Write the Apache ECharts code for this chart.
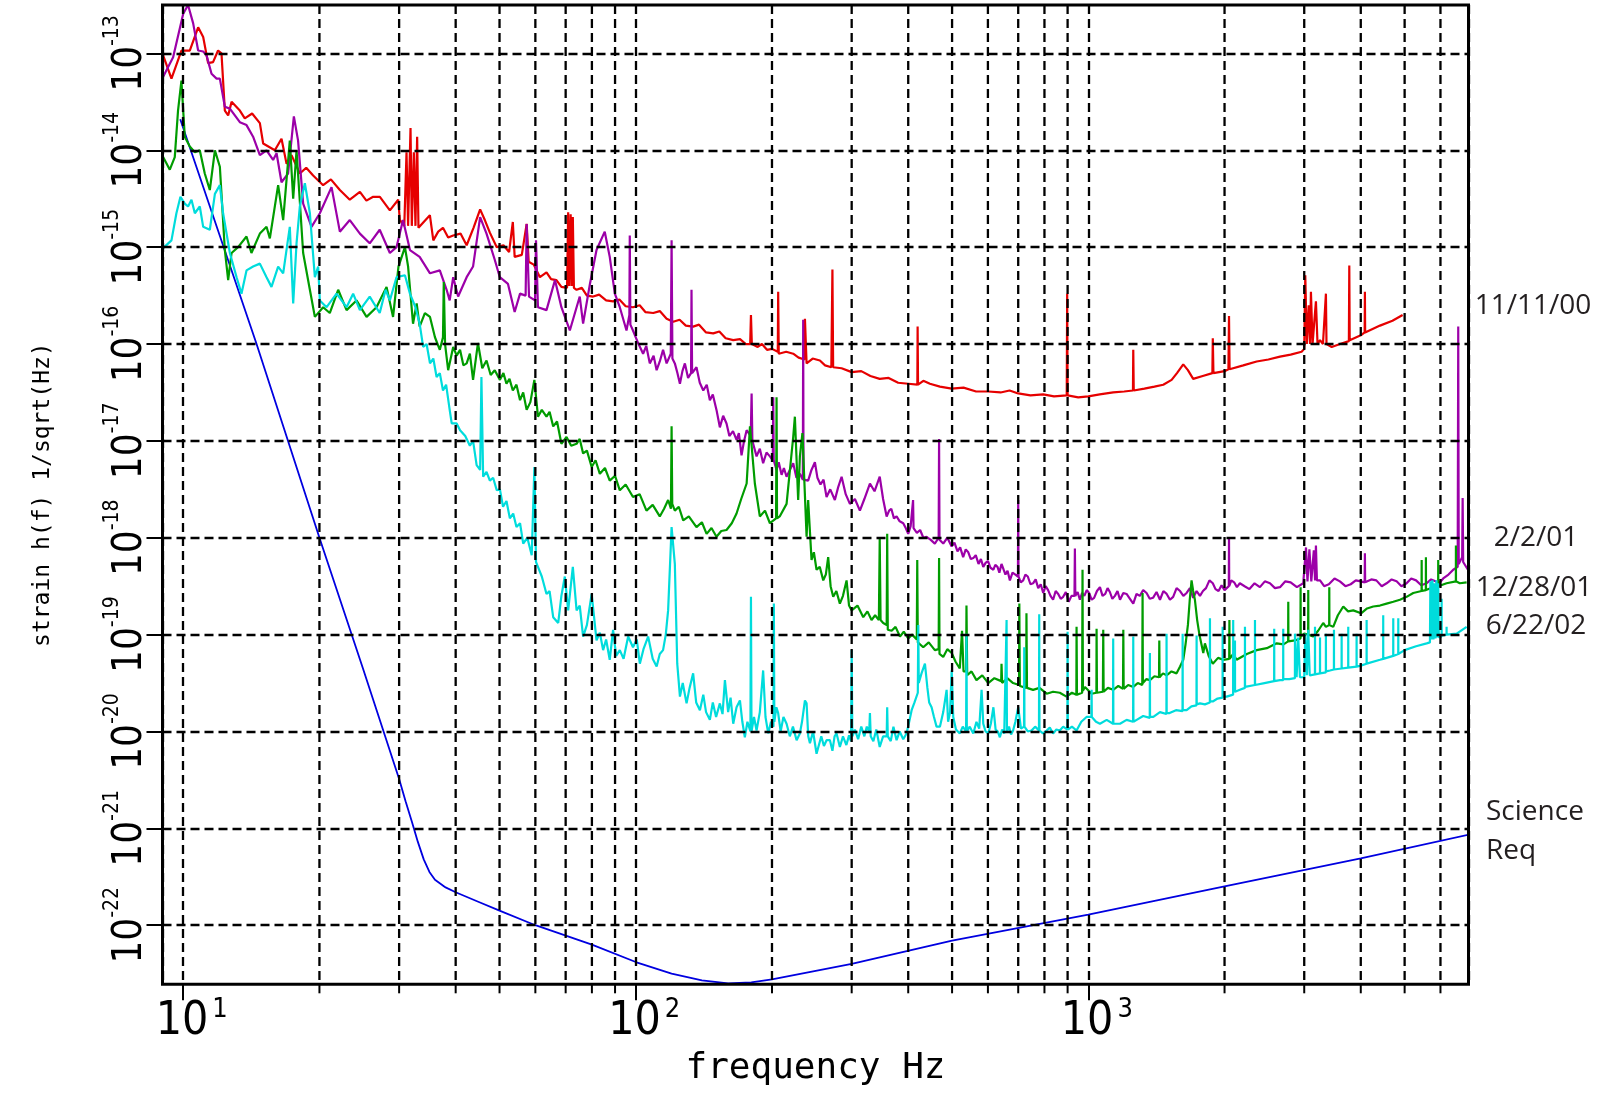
<!DOCTYPE html>
<html>
<head>
<meta charset="utf-8">
<title>strain h(f)</title>
<style>
    html, body { margin: 0; padding: 0; background: #fff; }
    #sensitivity { width: 1607px; height: 1101px; }
</style>
<script src="https://cdn.jsdelivr.net/npm/echarts@6.0.0/dist/echarts.min.js"></script>
</head>
<body>
<div id="sensitivity"></div>
<script>
// values: [frequency Hz, log10 of strain]
var run_111100 = [
    [9.03,-13.02],[9.42,-13.26],[9.91,-12.97],[10.34,-12.97],[10.79,-12.73],[11.07,-12.83],[11.35,-13.10],[11.64,-13.09],
    [11.94,-12.97],[12.15,-13.0],[12.36,-13.59],[12.57,-13.64],[12.79,-13.50],[13.34,-13.59],[13.68,-13.67],[14.2,-13.62],
    [14.77,-13.72],[15.02,-13.93],[15.94,-14.0],[16.49,-13.88],[16.92,-14.14],[17.35,-14.05],[18.1,-14.24],[18.7,-14.18],
    [19.37,-14.26],[20.38,-14.36],[21.2,-14.3],[22.19,-14.41],[23.34,-14.51],[24.57,-14.43],[25.4,-14.52],[26.29,-14.48],
    [27.2,-14.48],[28.62,-14.62],[29.86,-14.51],[30.11,-14.72],[30.8,-14.78],[31.15,-14.02],[31.4,-14.78],[31.79,-13.77],
    [32.0,-14.78],[32.33,-14.02],[32.6,-14.78],[32.88,-13.86],[33.1,-14.8],[33.33,-14.82],[35.08,-14.67],[35.7,-14.93],
    [36.6,-14.84],[37.5,-14.8],[38.5,-14.9],[39.5,-14.88],[41,-14.86],[42.3,-14.98],[43.8,-14.8],[45.3,-14.61],
    [46.4,-14.72],[47.6,-14.85],[49.3,-15.0],[51,-14.98],[52.5,-15.05],[53.5,-14.74],[54,-15.1],[56,-15.08],
    [57.4,-14.76],[58,-15.15],[59.5,-15.18],[61.4,-15.31],[63.5,-15.26],[65,-15.33],[66.8,-15.34],[68.5,-15.41],
    [70.5,-15.42],[70.9,-14.64],[71.3,-15.40],[71.8,-14.66],[72.2,-15.40],[72.6,-14.69],[73,-15.42],[74,-15.44],
    [76,-15.42],[78,-15.5],[80.5,-15.51],[83,-15.49],[86,-15.55],[89.1,-15.56],[92,-15.54],[95,-15.61],
    [98.6,-15.62],[102,-15.6],[105,-15.67],[109.3,-15.68],[113,-15.66],[117,-15.74],[121,-15.77],[125,-15.75],
    [129,-15.81],[133.9,-15.82],[138,-15.8],[143,-15.88],[148.3,-15.89],[153,-15.87],[158,-15.94],[164.2,-15.96],
    [170,-15.95],[175,-16.0],[179,-16.0],[179.7,-15.70],[180.5,-16.0],[186,-16.03],[190,-16.0],[195,-16.06],
    [200,-16.05],[206,-16.08],[206.4,-15.46],[207,-16.1],[215,-16.08],[222.8,-16.10],[229,-16.14],[236,-16.16],
    [236.5,-15.74],[238.5,-16.20],[246,-16.15],[255.2,-16.17],[262,-16.22],[270.5,-16.24],[272,-15.23],[273,-16.24],
    [285,-16.25],[300,-16.29],[315,-16.28],[330,-16.33],[346,-16.36],[362,-16.35],[380,-16.4],[400,-16.41],
    [419,-16.42],[419.6,-15.82],[420.5,-16.42],[432,-16.38],[446.7,-16.41],[470,-16.44],[499,-16.46],[530,-16.45],
    [565,-16.49],[601,-16.49],[640,-16.5],[670,-16.48],[700,-16.51],[745,-16.53],[795,-16.52],[840,-16.54],
    [896,-16.53],[898,-15.48],[900,-16.53],[950,-16.55],[1000,-16.54],[1060,-16.52],[1135,-16.50],[1200,-16.49],
    [1255,-16.48],[1257,-16.06],[1260,-16.48],[1330,-16.46],[1400,-16.44],[1464,-16.42],[1528,-16.37],[1570,-16.3],
    [1621,-16.21],[1660,-16.27],[1705,-16.36],[1790,-16.33],[1880,-16.30],[1884,-15.94],[1890,-16.30],[2000,-16.28],
    [2040,-16.26],[2046,-15.71],[2052,-16.26],[2200,-16.22],[2355,-16.18],[2500,-16.16],[2652,-16.13],[2800,-16.11],
    [2960,-16.08],[3000,-16.05],[3016,-15.29],[3040,-16.0],[3070,-15.6],[3090,-16.0],[3104,-15.46],[3130,-16.0],
    [3160,-15.75],[3184,-15.56],[3210,-16.0],[3251,-15.96],[3300,-16.0],[3350,-15.48],[3360,-16.0],[3450,-16.03],
    [3600,-16.0],[3765,-15.97],[3773,-15.19],[3781,-15.96],[4000,-15.91],[4080,-15.88],[4085,-15.46],[4090,-15.88],
    [4411,-15.81],[4700,-15.76],[4949,-15.70]
];

var run_020201 = [
    [9.03,-13.24],[9.5,-13.04],[10.0,-12.59],[10.25,-12.50],[10.52,-12.69],[10.79,-12.97],[11.07,-12.98],[11.26,-13.02],
    [11.55,-13.21],[11.85,-13.26],[12.05,-13.26],[12.36,-13.55],[12.68,-13.57],[13.34,-13.71],[13.8,-13.74],[14.27,-13.86],
    [14.77,-14.05],[15.28,-14.0],[15.8,-14.10],[16.08,-14.03],[16.49,-14.33],[17.05,-14.24],[17.56,-13.65],[17.94,-13.90],
    [18.41,-14.55],[19.21,-14.79],[20.04,-14.65],[21.27,-14.38],[22.19,-14.84],[23.34,-14.72],[24.57,-14.86],[25.83,-14.96],
    [27.18,-14.82],[28.62,-15.06],[29.6,-15.0],[30.6,-14.72],[31.7,-15.03],[33.3,-15.10],[35.1,-15.27],[36.9,-15.24],
    [38.2,-15.44],[38.8,-15.55],[39.5,-15.31],[40.5,-15.51],[42.3,-15.31],[43.7,-15.20],[45.3,-14.69],[46.8,-14.86],
    [48.8,-15.13],[50.07,-15.31],[52.2,-15.38],[54.0,-15.67],[55.5,-15.48],[57.1,-15.5],[57.4,-14.76],[58.1,-15.51],
    [59.9,-15.55],[60.2,-14.93],[60.8,-15.62],[63.5,-15.65],[66.3,-15.34],[68.5,-15.62],[71.5,-15.86],[75.2,-15.51],
    [76.5,-15.79],[79.2,-15.38],[81.9,-15.03],[85.4,-14.84],[87.6,-15.10],[89.9,-15.48],[92.2,-15.62],[95.4,-15.86],
    [96.8,-15.7],[97.0,-14.88],[97.3,-15.8],[98.6,-15.86],[101.2,-15.99],[103.8,-16.10],[105.5,-16.02],[107.4,-16.20],
    [109.5,-16.12],[111.2,-16.27],[113,-16.18],[114.9,-16.06],[117,-16.2],[119.5,-16.1],[120,-14.93],[120.5,-16.15],
    [122,-16.20],[123.6,-16.3],[125.2,-16.41],[126.8,-16.28],[128.4,-16.20],[130.5,-16.35],[132.5,-16.3],[132.8,-15.44],
    [133.2,-16.3],[136.2,-16.24],[138.5,-16.4],[141,-16.48],[143.5,-16.42],[145.8,-16.58],[148,-16.52],[150.8,-16.68],
    [153.4,-16.86],[156,-16.74],[158.7,-16.82],[161,-16.95],[164,-16.9],[167,-16.99],[169,-16.92],[171.3,-17.15],
    [173.5,-17.0],[175.8,-16.89],[179.5,-16.95],[180.3,-16.51],[181,-17.0],[184.9,-17.16],[188,-17.08],[191.2,-17.23],
    [194.5,-17.12],[197.9,-17.16],[200.8,-17.2],[201.3,-16.55],[201.8,-17.2],[204.7,-17.30],[207,-17.22],[210,-17.35],
    [212.5,-17.28],[215.4,-17.37],[219,-17.3],[222.8,-17.23],[226.5,-17.38],[230.5,-17.34],[234,-17.4],[234.4,-15.75],
    [234.8,-17.4],[240.4,-17.41],[244.5,-17.3],[248.8,-17.22],[252,-17.38],[256,-17.45],[260,-17.4],[264,-17.58],
    [269,-17.5],[275.4,-17.61],[280,-17.48],[285,-17.37],[291,-17.55],[297.3,-17.65],[305,-17.6],[312.8,-17.72],
    [320,-17.6],[329.2,-17.44],[337,-17.52],[346,-17.37],[352,-17.6],[358.4,-17.78],[363,-17.72],[367,-17.7],
    [372,-17.8],[377,-17.78],[383,-17.83],[390,-17.85],[395,-17.9],[400,-17.96],[405,-17.88],[409,-17.9],
    [410,-17.61],[411,-17.9],[418,-17.95],[425,-17.92],[432,-18.0],[439,-17.99],[448,-18.02],[458,-18.06],
    [467,-18.0],[468,-16.98],[469,-18.02],[478,-18.06],[488,-18.0],[499,-18.09],[506,-18.05],[514,-18.14],
    [521,-18.1],[529,-18.20],[536,-18.12],[543,-18.15],[550,-18.22],[557,-18.21],[564,-18.18],[572,-18.27],
    [579,-18.22],[586,-18.30],[593,-18.26],[600,-18.24],[608,-18.31],[617,-18.33],[623,-18.28],[630,-18.3],
    [636,-18.36],[643,-18.27],[650,-18.33],[656,-18.38],[663,-18.34],[671,-18.44],[680,-18.36],[690,-18.38],
    [699,-18.4],[700,-17.61],[701,-18.4],[709,-18.46],[718,-18.44],[726,-18.38],[735,-18.4],[745,-18.48],
    [755,-18.47],[765,-18.43],[775,-18.52],[785,-18.48],[795,-18.57],[805,-18.5],[815,-18.54],[825,-18.6],
    [836,-18.64],[847,-18.55],[858,-18.58],[869,-18.63],[880,-18.61],[892,-18.56],[905,-18.66],[918,-18.6],
    [932,-18.6],[934,-18.11],[936,-18.6],[947,-18.56],[958,-18.64],[969,-18.57],[980,-18.6],[992,-18.54],
    [1004,-18.57],[1017,-18.64],[1030,-18.62],[1045,-18.55],[1061,-18.51],[1075,-18.6],[1090,-18.58],[1103,-18.52],
    [1116,-18.56],[1130,-18.63],[1145,-18.6],[1160,-18.55],[1175,-18.64],[1195,-18.57],[1215,-18.58],[1236,-18.63],
    [1257,-18.68],[1278,-18.58],[1300,-18.6],[1322,-18.54],[1345,-18.57],[1367,-18.63],[1390,-18.62],[1415,-18.56],
    [1440,-18.64],[1465,-18.55],[1490,-18.58],[1515,-18.64],[1540,-18.61],[1567,-18.52],[1595,-18.55],[1622,-18.6],
    [1649,-18.57],[1677,-18.52],[1705,-18.62],[1735,-18.55],[1765,-18.60],[1792,-18.55],[1820,-18.52],[1852,-18.44],
    [1884,-18.47],[1910,-18.53],[1940,-18.55],[1970,-18.49],[2000,-18.54],[2044,-18.5],[2046,-18.01],[2048,-18.5],
    [2070,-18.44],[2100,-18.46],[2130,-18.51],[2162,-18.47],[2215,-18.5],[2270,-18.53],[2330,-18.47],[2394,-18.51],
    [2455,-18.45],[2520,-18.47],[2585,-18.52],[2652,-18.51],[2725,-18.45],[2800,-18.46],[2890,-18.51],[2985,-18.47],
    [3010,-18.45],[3027,-18.1],[3050,-18.45],[3080,-18.12],[3110,-18.45],[3150,-18.13],[3170,-18.44],[3184,-18.08],
    [3200,-18.44],[3251,-18.44],[3320,-18.5],[3400,-18.48],[3500,-18.42],[3597,-18.45],[3700,-18.5],[3800,-18.48],
    [3900,-18.44],[4000,-18.45],[4080,-18.46],[4085,-18.16],[4090,-18.46],[4121,-18.47],[4220,-18.43],[4330,-18.44],
    [4450,-18.5],[4562,-18.47],[4680,-18.43],[4800,-18.45],[4920,-18.5],[5050,-18.47],[5170,-18.42],[5300,-18.44],
    [5440,-18.49],[5593,-18.47],[5720,-18.43],[5850,-18.45],[5960,-18.47],[6085,-18.42],[6250,-18.38],[6403,-18.33],
    [6550,-18.3],[6568,-15.82],[6585,-18.27],[6620,-18.27],[6700,-18.2],[6717,-17.59],[6735,-18.25],[6796,-18.25],
    [6900,-18.33]
];

var run_122801 = [
    [9.03,-14.07],[9.34,-14.20],[9.58,-14.07],[9.74,-13.59],[9.91,-13.28],[10.08,-13.86],[10.34,-13.96],[10.61,-14.02],
    [10.88,-14.0],[11.16,-14.24],[11.45,-14.41],[11.75,-14.0],[12.05,-14.17],[12.36,-15.03],[12.57,-15.34],[12.79,-15.06],
    [13.22,-15.0],[13.8,-14.89],[14.15,-15.06],[14.77,-14.86],[15.28,-14.79],[15.54,-14.91],[16.21,-14.36],[16.63,-14.72],
    [17.2,-13.90],[17.5,-14.50],[17.8,-14.0],[18.41,-15.06],[19.05,-15.44],[19.54,-15.72],[20.38,-15.62],[21.08,-15.68],
    [22,-15.44],[22.96,-15.65],[24.15,-15.55],[25.42,-15.72],[26.74,-15.62],[28.14,-15.41],[29.09,-15.72],[29.9,-15.20],
    [30.9,-15.0],[31.4,-15.20],[32.2,-15.79],[32.8,-15.58],[33.3,-15.82],[34.2,-15.68],[35.1,-15.72],[36,-15.93],
    [36.9,-16.06],[37.5,-15.93],[37.65,-15.36],[37.9,-16.0],[38.5,-16.27],[39.5,-16.03],[40.2,-16.12],[40.9,-16.06],
    [41.6,-16.22],[42.3,-16.20],[43,-16.1],[43.7,-16.37],[44.8,-15.99],[45.8,-16.25],[46.8,-16.17],[47.8,-16.32],
    [48.8,-16.27],[50.1,-16.37],[51,-16.3],[51.8,-16.41],[52.6,-16.36],[53.5,-16.48],[54.5,-16.42],[55.5,-16.58],
    [56.4,-16.5],[57.4,-16.68],[58.5,-16.6],[59.7,-16.37],[60.8,-16.75],[62,-16.68],[63.5,-16.75],[64.5,-16.7],
    [65.7,-16.85],[67,-16.8],[68.5,-17.03],[70.3,-16.96],[72,-17.05],[74,-17.03],[75.2,-16.98],[76.5,-17.13],
    [78,-17.1],[79.9,-17.27],[81.5,-17.2],[83.3,-17.34],[85.5,-17.28],[87.6,-17.41],[90,-17.36],[92.2,-17.51],
    [95,-17.45],[98.6,-17.58],[102,-17.55],[105.6,-17.72],[109,-17.66],[113,-17.78],[115.5,-17.7],[117.9,-17.61],
    [119.6,-17.7],[120,-16.85],[120.4,-17.65],[122,-17.72],[124.5,-17.68],[127.3,-17.82],[131,-17.78],[136.2,-17.89],
    [140,-17.84],[143.4,-17.96],[147,-17.9],[150.8,-17.99],[154.5,-17.93],[158.7,-17.92],[163,-17.85],[167,-17.75],
    [171,-17.6],[175.8,-17.44],[178.8,-16.85],[183.3,-17.44],[188,-17.78],[193,-17.72],[197.9,-17.85],[204.2,-17.8],
    [204.7,-16.55],[205.2,-17.8],[208,-17.78],[215.4,-17.65],[222.8,-16.96],[224.7,-16.75],[228.5,-17.61],[230.5,-17.16],
    [233.5,-16.92],[238.5,-17.99],[240.4,-17.61],[244.6,-18.23],[247.5,-18.15],[250.9,-18.33],[255,-18.3],[259.6,-18.44],
    [263,-18.38],[266.2,-18.20],[269.5,-18.5],[273.1,-18.61],[277.5,-18.55],[282.5,-18.68],[287,-18.6],[292.3,-18.44],
    [296,-18.7],[300,-18.75],[309,-18.7],[318.2,-18.82],[325,-18.76],[331.9,-18.85],[338,-18.8],[344.5,-18.85],
    [346,-18.01],[347.5,-18.85],[352.2,-18.88],[358.5,-18.9],[359.4,-17.96],[360.5,-18.95],[367.6,-18.96],[375,-18.92],
    [383.5,-19.02],[391,-18.97],[400,-19.04],[408,-19.0],[417.8,-19.05],[418.8,-18.23],[420,-19.08],[431.8,-19.13],
    [444,-19.08],[458,-19.16],[467,-19.15],[468,-18.21],[469,-19.2],[478,-19.23],[488,-19.15],[499,-19.19],
    [509,-19.28],[520,-19.35],[526,-18.96],[530,-19.38],[537,-19.38],[538,-18.70],[540,-19.42],[552,-19.38],
    [566,-19.47],[583,-19.42],[601,-19.50],[620,-19.45],[642,-19.48],[643,-19.30],[645,-19.5],[662,-19.45],
    [682,-19.50],[703,-19.52],[704,-18.68],[706,-19.53],[729,-19.55],[730,-18.78],[732,-19.55],[755,-19.57],
    [780,-19.55],[809,-19.61],[836,-19.59],[865,-19.6],[895,-19.64],[920,-19.6],[941,-19.62],[942,-18.92],
    [944,-19.62],[969,-19.6],[971,-18.33],[973,-19.58],[983,-19.54],[1017,-19.61],[1042,-19.6],[1043,-18.94],
    [1045,-19.6],[1077,-19.59],[1079,-18.95],[1081,-19.59],[1105,-19.55],[1135,-19.57],[1165,-19.53],[1193,-19.56],
    [1195,-18.95],[1197,-19.56],[1225,-19.52],[1257,-19.54],[1286,-19.5],[1316,-19.52],[1318,-18.57],[1320,-19.5],
    [1343,-19.46],[1368,-19.47],[1400,-19.43],[1433,-19.44],[1435,-19.06],[1437,-19.44],[1462,-19.4],[1489,-19.42],
    [1527,-19.38],[1567,-19.40],[1595,-19.33],[1621,-19.26],[1640,-19.1],[1660,-18.9],[1675,-18.65],[1691,-18.44],
    [1705,-18.55],[1720,-18.64],[1740,-18.85],[1760,-19.0],[1795,-19.19],[1810,-19.09],[1845,-19.22],[1884,-19.30],
    [1935,-19.24],[1987,-19.26],[2048,-19.25],[2050,-18.85],[2052,-19.25],[2090,-19.2],[2127,-19.26],[2240,-19.2],
    [2355,-19.16],[2480,-19.14],[2608,-19.09],[2700,-19.1],[2764,-19.07],[2766,-18.66],[2768,-19.07],[2862,-19.06],
    [2943,-19.04],[2945,-18.51],[2947,-19.02],[3000,-18.99],[3060,-19.0],[3062,-18.54],[3064,-19.0],[3141,-19.02],
    [3220,-18.96],[3304,-18.88],[3350,-18.92],[3406,-18.9],[3408,-18.51],[3410,-18.9],[3477,-18.92],[3560,-18.8],
    [3659,-18.71],[3750,-18.76],[3850,-18.75],[4007,-18.78],[4130,-18.73],[4262,-18.71],[4410,-18.7],[4562,-18.68],
    [4720,-18.66],[4882,-18.64],[5050,-18.61],[5224,-18.57],[5450,-18.55],[5453,-18.23],[5456,-18.55],[5570,-18.54],
    [5572,-18.20],[5574,-18.54],[5783,-18.51],[5930,-18.5],[5932,-18.23],[5934,-18.5],[6190,-18.47],[6489,-18.45],
    [6491,-18.08],[6493,-18.45],[6620,-18.47],[6855,-18.46]
];

var run_062202 = [
    [9.03,-15.01],[9.42,-14.93],[9.66,-14.65],[9.86,-14.48],[10.08,-14.55],[10.25,-14.58],[10.43,-14.51],[10.61,-14.65],
    [10.88,-14.58],[11.07,-14.79],[11.45,-14.82],[11.75,-14.45],[12.05,-14.36],[12.25,-14.65],[12.68,-15.06],[13.12,-15.31],
    [13.45,-15.48],[13.8,-15.24],[14.27,-15.20],[14.77,-15.17],[15.28,-15.31],[15.67,-15.41],[16.21,-15.20],[16.63,-15.27],
    [17.2,-14.79],[17.5,-15.58],[17.8,-14.96],[18.1,-14.58],[18.57,-14.34],[19.05,-14.65],[19.54,-15.31],[19.87,-15.20],
    [20.04,-15.55],[20.74,-15.62],[21.82,-15.48],[22.96,-15.62],[23.74,-15.48],[24.57,-15.65],[25.83,-15.51],[27.18,-15.68],
    [28.0,-15.44],[28.62,-15.55],[29.6,-15.31],[30.9,-15.29],[31.7,-15.48],[32.6,-15.62],[33.3,-15.79],[33.9,-16.03],
    [34.5,-16.0],[35.1,-16.20],[35.7,-16.15],[36.3,-16.34],[36.9,-16.3],[37.5,-16.48],[38.1,-16.42],[38.8,-16.68],
    [39.2,-16.82],[40.2,-16.82],[40.9,-16.89],[42,-16.95],[43.0,-17.05],[43.7,-17.0],[44.5,-17.25],[45.3,-17.3],
    [45.6,-16.34],[46.0,-17.37],[46.8,-17.32],[47.6,-17.41],[48.4,-17.38],[49.3,-17.51],[50.1,-17.5],[50.9,-17.68],
    [51.8,-17.62],[52.7,-17.80],[53.6,-17.75],[54.5,-17.89],[55.5,-17.85],[56.4,-18.06],[57.6,-18.0],[58.9,-18.18],
    [59.4,-18.2],[59.7,-17.27],[60.2,-18.25],[60.8,-18.30],[62,-18.4],[63.5,-18.58],[64.5,-18.55],[65.7,-18.82],
    [67.4,-18.88],[68.5,-18.6],[69.7,-18.40],[70.9,-18.75],[72.6,-18.30],[74,-18.75],[75.2,-18.7],[76.5,-19.02],
    [78,-18.9],[79.9,-18.58],[81.9,-19.06],[83.3,-18.98],[84.7,-19.16],[86,-19.05],[87.6,-19.26],[89.1,-18.95],
    [90.5,-19.22],[92.2,-19.16],[94,-19.25],[96.2,-19.02],[98.6,-19.13],[100.5,-19.05],[102.1,-19.30],[104,-19.15],
    [106.5,-19.02],[109,-19.25],[111.2,-19.33],[113,-19.2],[114.9,-19.16],[116.5,-19.0],[117.9,-18.75],[120,-17.89],
    [122,-18.27],[123.5,-19.3],[125.2,-19.64],[127,-19.5],[129.5,-19.71],[131.5,-19.55],[133.9,-19.40],[136,-19.7],
    [138.6,-19.78],[141,-19.62],[143,-19.8],[145.8,-19.88],[148,-19.7],[150.5,-19.85],[153.4,-19.71],[155.5,-19.82],
    [157.4,-19.47],[160,-19.8],[162,-19.65],[164.2,-19.92],[167,-19.75],[169.9,-19.68],[172,-19.9],[174.2,-20.06],
    [176.5,-19.9],[179.2,-20.0],[179.7,-18.61],[180.2,-20.0],[182.5,-19.85],[184.9,-19.99],[188,-19.8],[191.2,-19.37],
    [193.5,-19.85],[196.2,-20.02],[199,-19.9],[201.5,-19.95],[201.9,-18.68],[202.4,-19.9],[204.5,-19.75],[206.4,-19.81],
    [209,-20.0],[212,-19.85],[215.4,-19.92],[219,-20.05],[222.5,-19.95],[226.7,-20.09],[230.5,-20.02],[233,-19.9],
    [236.5,-19.68],[238.5,-19.71],[240.5,-20.05],[242.6,-20.12],[246.5,-20.0],[250.9,-20.23],[253,-20.23],[257,-20.05],
    [260.5,-20.15],[264,-20.09],[268.6,-20.09],[272,-20.2],[275,-20.05],[277.8,-20.02],[282.5,-20.16],[287,-20.05],
    [292,-20.14],[296,-20.04],[299,-20.1],[300,-19.16],[301,-20.05],[305,-19.98],[310,-20.08],[315,-19.95],
    [320,-20.05],[324,-19.95],[328,-20.0],[329.2,-19.81],[330.5,-20.05],[335,-20.1],[340,-19.98],[346,-20.16],
    [352,-20.05],[358.5,-20.05],[359.4,-19.75],[360.5,-20.05],[366,-20.1],[371,-19.95],[377,-20.09],[383,-20.0],
    [390,-20.08],[396.6,-20.02],[402,-19.9],[407,-19.78],[413,-19.7],[420,-19.6],[421,-18.90],[422,-19.5],
    [428,-19.4],[435.5,-19.30],[441,-19.55],[445,-19.7],[450.5,-19.75],[456,-19.85],[462,-19.95],[470,-19.95],
    [478,-19.8],[486.3,-19.57],[490,-19.9],[495,-19.8],[499,-19.37],[503,-19.85],[510,-19.98],[520,-20.02],
    [528,-19.95],[537,-20.0],[538,-18.99],[539,-20.0],[547,-19.95],[557,-20.02],[566,-19.9],[574,-19.97],
    [581,-19.57],[586,-19.92],[593,-20.0],[601,-20.02],[609,-19.92],[617,-19.75],[624,-19.98],[631,-20.0],
    [637.6,-20.06],[645,-19.98],[652,-20.02],[658.5,-20.0],[659.8,-18.85],[661,-20.0],[668,-19.95],[675,-20.03],
    [682,-19.99],[690,-19.9],[700,-19.75],[710,-19.97],[721,-19.95],[721.8,-19.13],[722.6,-19.95],[735,-20.0],
    [749,-19.99],[763,-19.95],[778,-19.99],[779,-18.79],[780,-19.99],[794,-20.02],[809,-19.99],[822,-19.96],
    [836,-20.02],[850,-19.98],[865,-19.99],[880,-19.95],[899,-19.98],[900,-18.97],[901,-19.98],[920,-19.95],
    [942,-19.99],[965,-19.9],[991,-19.85],[1016,-19.85],[1017,-19.57],[1018,-19.85],[1040,-19.9],[1061,-19.92],
    [1098,-19.88],[1134,-19.92],[1135,-19.04],[1136,-19.92],[1175,-19.92],[1215,-19.88],[1256,-19.9],[1257,-19.02],
    [1258,-19.9],[1279,-19.88],[1322,-19.84],[1367,-19.86],[1368,-19.19],[1369,-19.85],[1392,-19.85],[1440,-19.8],
    [1488,-19.82],[1489,-18.99],[1490,-19.81],[1512,-19.81],[1562,-19.78],[1615,-19.79],[1616,-18.99],[1617,-19.78],
    [1649,-19.78],[1690,-19.74],[1734,-19.73],[1735,-19.01],[1736,-19.72],[1765,-19.71],[1810,-19.72],[1856,-19.7],
    [1857,-18.83],[1858,-19.69],[1884,-19.69],[1930,-19.66],[1980,-19.65],[1981,-18.92],[1982,-19.64],[2022,-19.64],
    [2089,-19.62],[2090,-18.85],[2091,-19.6],[2108,-19.6],[2109,-19.06],[2110,-19.59],[2162,-19.57],[2218,-19.55],
    [2219,-18.92],[2220,-19.54],[2334,-19.52],[2335,-18.85],[2336,-19.52],[2450,-19.5],[2574,-19.48],[2575,-18.94],
    [2576,-19.48],[2652,-19.47],[2695,-19.47],[2696,-18.94],[2697,-19.46],[2780,-19.46],[2861,-19.45],[2862,-18.99],
    [2886,-19.44],[2910,-19.03],[2935,-19.44],[3000,-19.44],[3016,-18.99],[3040,-19.42],[3062,-18.95],[3085,-19.42],
    [3168,-19.41],[3169,-18.92],[3170,-19.41],[3250,-19.4],[3251,-19.03],[3252,-19.4],[3349,-19.39],[3350,-18.99],
    [3351,-19.38],[3420,-19.37],[3489,-19.36],[3490,-18.95],[3491,-19.36],[3628,-19.35],[3629,-18.99],[3630,-19.35],
    [3752,-19.34],[3753,-18.92],[3754,-19.34],[3915,-19.33],[3916,-18.99],[3917,-19.33],[4000,-19.32],[4120,-19.3],
    [4121,-18.85],[4122,-19.3],[4411,-19.26],[4483,-19.25],[4484,-18.80],[4485,-19.25],[4718,-19.22],[4719,-18.83],
    [4720,-19.22],[4840,-19.2],[4841,-18.83],[4842,-19.2],[5000,-19.16],[5300,-19.12],[5593,-19.09],[5687,-19.08],
    [5700,-18.45],[5730,-19.05],[5760,-18.44],[5790,-19.05],[5820,-18.47],[5850,-19.04],[5880,-18.44],[5910,-19.03],
    [5932,-18.47],[5950,-19.03],[6000,-19.02],[6035,-19.02],[6036,-18.63],[6037,-19.01],[6189,-19.0],[6190,-18.92],
    [6191,-19.0],[6516,-18.99],[6855,-18.92]
];

var scienceReq = [
    [9.85,-13.68],[14.5,-15.99],[20,-18.0],[25,-19.36],[30,-20.49],[31,-20.72],[32,-20.93],[33,-21.14],
    [34,-21.32],[35,-21.45],[36,-21.53],[38,-21.61],[40,-21.66],[45,-21.76],[50,-21.85],[60,-22.0],
    [80,-22.2],[100,-22.38],[120,-22.5],[140,-22.57],[160,-22.6],[180,-22.59],[200,-22.56],[300,-22.40],
    [500,-22.16],[1000,-21.89],[2000,-21.60],[4000,-21.31],[7000,-21.06]
];

// tick values
var yDecades = [-22, -21, -20, -19, -18, -17, -16, -15, -14, -13];
var xMinorFreq = [20, 30, 40, 50, 60, 70, 80, 90, 200, 300, 400, 500, 600, 700, 800, 900, 2000, 3000, 4000, 5000, 6000];

var runNames = ['11/11/00', '2/2/01', '12/28/01', '6/22/02'];
var runColors = ['#e60000', '#9c00a8', '#009c00', '#00dcdc'];

var cadFont = "'Liberation Sans Narrow', 'DejaVu Sans Condensed', 'Liberation Sans', sans-serif";
var monoFont = "'DejaVu Sans Mono', 'Liberation Mono', monospace";
var gridDash = [9, 5];
var gridWidth = 2.3;

var sensitivityChart = echarts.init(document.getElementById('sensitivity'));

// minor vertical grid lines + short ticks under the axis
function renderMinorGrid(params, api) {
    var x = api.coord([api.value(0), -20])[0];
    var cs = params.coordSys;
    return {
        type: 'group',
        children: [
            {
                type: 'line',
                shape: { x1: x, y1: cs.y, x2: x, y2: cs.y + cs.height },
                style: { stroke: '#000', lineWidth: gridWidth, lineDash: gridDash }
            },
            {
                type: 'line',
                shape: { x1: x, y1: cs.y + cs.height, x2: x, y2: cs.y + cs.height + 9 },
                style: { stroke: '#000', lineWidth: 2 }
            }
        ]
    };
}

function runSeries(name, data, color) {
    return {
        name: name,
        type: 'line',
        data: data,
        showSymbol: false,
        symbol: 'none',
        clip: true,
        lineStyle: { color: color, width: 2.2 },
        emphasis: { disabled: true },
        z: 2
    };
}

function labelText(text, x, y, align) {
    return {
        type: 'text', x: x, y: y,
        style: {
            text: text, fill: '#231f20', font: '28px "Open Sans"',
            textAlign: align, textVerticalAlign: 'middle', align: align, verticalAlign: 'middle'
        }
    };
}

var option = {
    animation: false,
    backgroundColor: '#fff',
    grid: {
        left: 162.5, right: 138.5, top: 5, bottom: 116.7,
        show: true, borderColor: '#000', borderWidth: 3, z: 10
    },
    xAxis: {
        type: 'log',
        logBase: 10,
        min: 9,
        max: 6920,
        z: 10,
        axisLine: { show: false },
        axisTick: { show: true, inside: false, length: 16, lineStyle: { color: '#000', width: 2 } },
        axisLabel: {
            margin: 12,
            showMinLabel: false,
            showMaxLabel: false,
            formatter: function(v) {
                var p = Math.log(v) / Math.LN10;
                if (Math.abs(p - Math.round(p)) > 1e-6) return '';
                return '{b|10}{s|' + Math.round(p) + '}';
            },
            rich: {
                b: { fontFamily: cadFont, fontSize: 46, lineHeight: 46, color: '#000', padding: [6, 0, 0, 17] },
                s: { fontFamily: cadFont, fontSize: 27, lineHeight: 27, color: '#000', verticalAlign: 'top', padding: [0, 0, 0, 4] }
            }
        },
        splitLine: { show: true, lineStyle: { color: '#000', width: gridWidth, type: gridDash } },
        name: 'frequency Hz',
        nameLocation: 'middle',
        nameGap: 64,
        nameTextStyle: { fontFamily: monoFont, fontSize: 36, color: '#000' }
    },
    yAxis: {
        type: 'value',
        min: -22.61,
        max: -12.5,
        splitNumber: 10,
        z: 10,
        axisLine: { show: false },
        axisTick: {
            show: true, inside: false, length: 16,
            customValues: yDecades,
            lineStyle: { color: '#000', width: 2 }
        },
        axisLabel: {
            customValues: yDecades,
            rotate: 90,
            margin: 20,
            formatter: function(v) {
                if (Math.abs(v - Math.round(v)) > 1e-6) return '';
                return '{b|10}{s|' + Math.round(v) + '}';
            },
            rich: {
                b: { fontFamily: cadFont, fontSize: 40, lineHeight: 40, color: '#000', padding: [16, 0, 0, 0] },
                s: { fontFamily: cadFont, fontSize: 21, lineHeight: 21, color: '#000', verticalAlign: 'top' }
            }
        },
        splitLine: { show: true, lineStyle: { color: '#000', width: gridWidth, type: gridDash } },
        name: 'strain h(f) 1/sqrt(Hz)',
        nameLocation: 'middle',
        nameRotate: 90,
        nameGap: 108,
        nameTextStyle: { fontFamily: monoFont, fontSize: 23, color: '#000' }
    },
    graphic: [
        labelText(runNames[0], 1533, 306, 'center'),
        labelText(runNames[1], 1536, 538, 'center'),
        labelText(runNames[2], 1534, 588, 'center'),
        labelText(runNames[3], 1536, 626, 'center'),
        labelText('Science', 1486, 812, 'left'),
        labelText('Req', 1486, 851, 'left')
    ],
    series: [
        {
            name: 'Science Req',
            type: 'line',
            data: scienceReq,
            showSymbol: false,
            symbol: 'none',
            lineStyle: { color: '#0000e0', width: 1.8 },
            emphasis: { disabled: true },
            z: 2
        },
        runSeries(runNames[0], run_111100, runColors[0]),
        runSeries(runNames[1], run_020201, runColors[1]),
        runSeries(runNames[2], run_122801, runColors[2]),
        runSeries(runNames[3], run_062202, runColors[3]),
        {
            name: 'minor grid',
            type: 'custom',
            renderItem: renderMinorGrid,
            data: xMinorFreq.map(function(f) { return [f]; }),
            encode: { x: 0 },
            clip: false,
            silent: true,
            z: 10
        }
    ]
};

sensitivityChart.setOption(option);

window.onresize = function() {
    sensitivityChart.resize();
};
</script>
</body>
</html>
